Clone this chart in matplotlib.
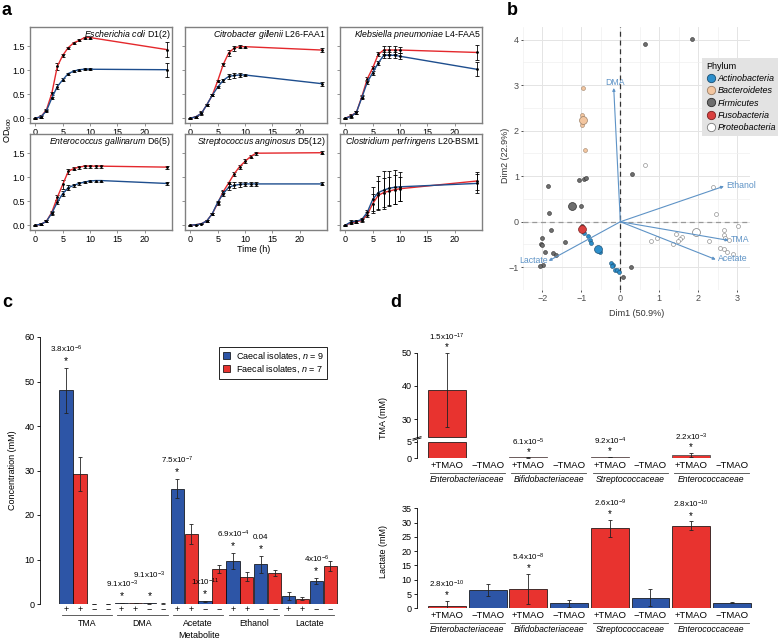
import numpy as np
import matplotlib.pyplot as plt
from matplotlib.lines import Line2D
from matplotlib.patches import Patch

plt.rcParams['font.family'] = ['Liberation Sans', 'DejaVu Sans']
plt.rcParams['mathtext.fontset'] = 'custom'
plt.rcParams['mathtext.rm'] = 'Liberation Sans'
plt.rcParams['mathtext.it'] = 'Liberation Sans:italic'
plt.rcParams['font.size'] = 6

RED = '#e8332f'
BLUE = '#2d55a6'
RED_LINE = '#e4282c'
BLUE_LINE = '#1e4e8e'
ARROW = '#5e93c6'

# ---------------- panel a: growth curves ----------------
a_species = ['Escherichia coli', 'Citrobacter gillenii', 'Klebsiella pneumoniae',
             'Enterococcus gallinarum', 'Streptococcus anginosus', 'Clostridium perfringens']
a_strain = ['D1(2)', 'L26-FAA1', 'L4-FAA5', 'D6(5)', 'D5(12)', 'L20-BSM1']
t_short = [0, 1, 2, 3, 4, 5, 6, 7, 8, 9, 10, 24]
t_long = [0, 1, 2, 3, 4, 5, 6, 7, 8, 9, 10, 11, 12, 24]
a_times = [t_short, t_short, t_short, t_long, t_long, t_short]
a_red = [
    [0.0, 0.03, 0.17, 0.52, 1.08, 1.31, 1.47, 1.57, 1.62, 1.68, 1.68, 1.43],
    [0.0, 0.03, 0.10, 0.28, 0.48, 0.78, 1.12, 1.36, 1.46, 1.49, 1.49, 1.42],
    [0.0, 0.05, 0.12, 0.45, 0.82, 1.05, 1.33, 1.42, 1.42, 1.42, 1.42, 1.37],
    [0.0, 0.02, 0.08, 0.27, 0.58, 0.85, 1.12, 1.18, 1.21, 1.23, 1.23, 1.23, 1.23, 1.21],
    [0.0, 0.01, 0.03, 0.09, 0.24, 0.46, 0.70, 0.88, 1.07, 1.22, 1.33, 1.43, 1.50, 1.51],
    [0.0, 0.05, 0.07, 0.10, 0.22, 0.45, 0.62, 0.68, 0.71, 0.74, 0.76, 0.92],
]
a_red_err = [
    [0.01, 0.02, 0.02, 0.03, 0.07, 0.03, 0.02, 0.02, 0.02, 0.02, 0.02, 0.15],
    [0.01, 0.02, 0.02, 0.02, 0.02, 0.02, 0.03, 0.06, 0.05, 0.03, 0.02, 0.04],
    [0.01, 0.03, 0.03, 0.03, 0.04, 0.03, 0.04, 0.08, 0.08, 0.08, 0.06, 0.15],
    [0.01, 0.02, 0.02, 0.03, 0.05, 0.10, 0.05, 0.03, 0.03, 0.03, 0.03, 0.03, 0.03, 0.03],
    [0.01, 0.01, 0.01, 0.02, 0.02, 0.03, 0.03, 0.03, 0.04, 0.04, 0.04, 0.04, 0.03, 0.03],
    [0.01, 0.02, 0.02, 0.03, 0.05, 0.20, 0.30, 0.30, 0.30, 0.30, 0.25, 0.18],
]
a_blue = [
    [0.0, 0.03, 0.15, 0.42, 0.66, 0.80, 0.93, 0.98, 1.01, 1.02, 1.02, 1.01],
    [0.0, 0.03, 0.10, 0.28, 0.48, 0.65, 0.79, 0.87, 0.89, 0.90, 0.90, 0.72],
    [0.0, 0.04, 0.12, 0.43, 0.75, 0.95, 1.15, 1.31, 1.31, 1.31, 1.29, 1.02],
    [0.0, 0.02, 0.08, 0.25, 0.48, 0.66, 0.78, 0.83, 0.87, 0.90, 0.92, 0.93, 0.93, 0.87],
    [0.0, 0.01, 0.03, 0.09, 0.24, 0.48, 0.66, 0.79, 0.83, 0.85, 0.86, 0.86, 0.86, 0.86],
    [0.0, 0.07, 0.08, 0.12, 0.27, 0.54, 0.68, 0.73, 0.77, 0.79, 0.80, 0.87],
]
a_blue_err = [
    [0.01, 0.03, 0.02, 0.03, 0.05, 0.03, 0.02, 0.02, 0.02, 0.02, 0.02, 0.15],
    [0.01, 0.02, 0.04, 0.02, 0.02, 0.02, 0.03, 0.06, 0.06, 0.05, 0.03, 0.04],
    [0.01, 0.03, 0.03, 0.03, 0.04, 0.04, 0.04, 0.06, 0.06, 0.06, 0.06, 0.15],
    [0.01, 0.02, 0.02, 0.03, 0.04, 0.05, 0.05, 0.03, 0.03, 0.02, 0.02, 0.02, 0.02, 0.03],
    [0.01, 0.01, 0.01, 0.02, 0.02, 0.03, 0.05, 0.06, 0.06, 0.05, 0.05, 0.05, 0.05, 0.03],
    [0.01, 0.03, 0.03, 0.03, 0.05, 0.25, 0.35, 0.40, 0.35, 0.35, 0.30, 0.20],
]

# ---------------- panel b: PCA ----------------
phyla = ['Actinobacteria', 'Bacteroidetes', 'Firmicutes', 'Fusobacteria', 'Proteobacteria']
ph_face = ['#2d8fcb', '#f3c6a0', '#6e6e6e', '#d9403f', 'white']
ph_edge = ['#1b4f73', '#9c7f66', '#2e2e2e', '#7a2020', '#7a7a7a']
actino_x = [-0.95, -0.93, -0.83, -0.79, -0.76, -0.52, -0.23, -0.19, -0.15, -0.09, -0.04, -0.22]
actino_y = [-0.21, -0.24, -0.32, -0.41, -0.46, -0.66, -0.91, -0.96, -1.06, -1.06, -1.11, -0.98]
bact_x = [-0.95, -0.98, -0.99, -0.92]
bact_y = [2.94, 2.35, 2.12, 1.57]
firm_x = [0.63, 1.85, 0.31, -1.06, -0.93, -0.88, -1.86, -1.84, -1.0, -1.78, -2.02, -2.04,
          -2.02, -1.93, -1.73, -1.66, -1.41, -1.99, -2.07, 0.27, 0.07, -0.98, -0.95]
firm_y = [3.91, 4.01, 1.04, 0.91, 0.94, 0.96, 0.78, 0.20, 0.35, -0.19, -0.35, -0.48,
          -0.52, -0.67, -0.69, -0.74, -0.45, -0.94, -0.98, -1.0, -1.21, -0.10, -0.15]
fuso_x = [-0.98]
fuso_y = [-0.12]
proteo_x = [0.63, 2.38, 2.45, 3.03, 2.67, 2.65, 2.68, 2.78, 2.27, 1.43, 1.58, 1.53, 1.49,
            1.35, 0.93, 0.80, 2.56, 2.66, 2.73, 2.89]
proteo_y = [1.24, 0.76, 0.17, -0.10, -0.18, -0.29, -0.36, -0.41, -0.43, -0.27, -0.34, -0.38,
            -0.42, -0.48, -0.35, -0.42, -0.57, -0.59, -0.67, -0.70]
cent_x = [-0.57, -0.97, -1.25, -0.98, 1.95]
cent_y = [-0.59, 2.24, 0.34, -0.15, -0.22]
arrow_names = ['DMA', 'Ethanol', 'TMA', 'Acetate', 'Lactate']
arrow_x = [-0.17, 2.66, 2.78, 2.45, -1.84]
arrow_y = [2.94, 0.78, -0.41, -0.83, -0.86]

# ---------------- panel c: metabolites ----------------
c_groups = ['TMA', 'DMA', 'Acetate', 'Ethanol', 'Lactate']
c_signs = ['+', '+', '\u2212', '\u2212']
c_vals = [[48.0, 29.2, 0.1, 0.1], [0.2, 0.15, 0.12, 0.1], [25.9, 15.7, 0.6, 7.8],
          [9.7, 6.1, 8.9, 7.0], [1.8, 1.2, 5.2, 8.5]]
c_errs = [[5.1, 3.9, 0.0, 0.0], [0.03, 0.02, 0.02, 0.02], [2.1, 2.2, 0.1, 0.9],
          [1.8, 1.0, 1.9, 0.7], [0.8, 0.3, 0.6, 1.1]]
c_ann_group = [0, 1, 1, 2, 2, 3, 3, 4]
c_ann_bar = [0, 0, 2, 0, 2, 0, 2, 2]
c_ann_text = ['3.8x10$^{-6}$', '9.1x10$^{-3}$', '9.1x10$^{-3}$', '7.5x10$^{-7}$',
              '1x10$^{-11}$', '6.9x10$^{-4}$', '0.04', '4x10$^{-6}$']

# ---------------- panel d: families ----------------
d_families = ['Enterobacteriaceae', 'Bifidobacteriaceae', 'Streptococcaceae', 'Enterococcaceae']
d_treat = ['+TMAO', '\u2212TMAO']
d_tma = [38.8, 0.05, 0.25, 0.05, 0.35, 0.05, 1.0, 0.05]
d_tma_err = [11.2, 0, 0.05, 0, 0.05, 0, 0.6, 0]
d_lac = [0.9, 6.3, 6.75, 1.75, 28.0, 3.7, 28.9, 2.0]
d_lac_err = [1.8, 2.05, 5.4, 1.3, 2.9, 2.9, 1.6, 0.15]
d_tma_p = ['1.5x10$^{-17}$', '6.1x10$^{-5}$', '9.2x10$^{-4}$', '2.2x10$^{-3}$']
d_lac_p = ['2.8x10$^{-10}$', '5.4x10$^{-8}$', '2.6x10$^{-9}$', '2.8x10$^{-10}$']
d_tma_ticks = [0, 5, 30, 40, 50]

W, H = 778, 640
fig = plt.figure(figsize=(W / 100, H / 100), dpi=100)


def box(l, t, r, b):
    return fig.add_axes([l / W, 1 - b / H, (r - l) / W, (b - t) / H])


for lab, x, y in [('a', 2, 15), ('b', 507, 15), ('c', 2, 307), ('d', 390, 307)]:
    fig.text(x / W, 1 - y / H, lab, fontsize=13, fontweight='bold', va='baseline')

# ---- a ----
a_left = [30, 185, 340]
a_top = [27, 134]
for k in range(6):
    row, col = divmod(k, 3)
    ax = box(a_left[col], a_top[row], a_left[col] + 142, a_top[row] + 96)
    for vals, errs, colr in ((a_red[k], a_red_err[k], RED_LINE), (a_blue[k], a_blue_err[k], BLUE_LINE)):
        ax.errorbar(a_times[k], vals, yerr=errs, color=colr, lw=1.0, marker='o', ms=1.0,
                    mfc='k', mec='k', ecolor='k', elinewidth=0.6, capsize=1.3, capthick=0.6)
    ax.set_xlim(-1, 25)
    ax.set_ylim(-0.1, 1.9)
    ax.set_xticks([0, 5, 10, 15, 20])
    ax.set_yticks([0, 0.5, 1, 1.5])
    if col == 0:
        ax.set_yticklabels(['0.0', '0.5', '1.0', '1.5'])
    else:
        ax.set_yticklabels([])
    for s in ax.spines.values():
        s.set_color('#808080')
        s.set_linewidth(1.0)
    ax.tick_params(length=2, width=0.6, color='#808080', labelsize=6.5, pad=1.5)
    title = r'$\mathit{' + a_species[k].replace(' ', r'\ ') + '}$ ' + a_strain[k]
    ax.text(0.99, 0.985, title, transform=ax.transAxes, ha='right', va='top', fontsize=6.3)
fig.text(8 / W, 1 - 130 / H, 'OD$_{600}$', rotation=90, ha='center', va='center', fontsize=6.5)
fig.text(254 / W, 1 - 249 / H, 'Time (h)', ha='center', va='center', fontsize=6.5)

# ---- b ----
axb = box(523, 27, 750, 290)
axb.set_xlim(-2.35, 3.33)
axb.set_ylim(-1.38, 4.28)
axb.set_xticks(np.arange(-2, 4))
axb.set_yticks(np.arange(-1, 5))
axb.set_xticks(np.arange(-2.5, 3.5, 1.0), minor=True)
axb.set_yticks(np.arange(-1.5, 4.5, 1.0), minor=True)
axb.grid(True, which='major', color='#e4e4e4', lw=0.7)
axb.grid(True, which='minor', color='#f0f0f0', lw=0.5)
axb.set_axisbelow(True)
axb.tick_params(which='minor', length=0)
axb.tick_params(which='major', length=1.5, width=0.6, color='#333333', labelcolor='#4d4d4d',
                labelsize=6.5, pad=1.5)
for s in axb.spines.values():
    s.set_visible(False)
axb.axvline(0, color='#333333', lw=0.9, ls=(0, (4, 3)))
axb.axhline(0, color='#999999', lw=0.9, ls=(0, (4, 3)))
b_x = [actino_x, bact_x, firm_x, fuso_x, proteo_x]
b_y = [actino_y, bact_y, firm_y, fuso_y, proteo_y]
for i in range(len(phyla)):
    axb.scatter(b_x[i], b_y[i], s=8, c=ph_face[i], edgecolors=ph_edge[i], linewidths=0.4, zorder=3)
    axb.scatter(cent_x[i], cent_y[i], s=32, c=ph_face[i], edgecolors=ph_edge[i], linewidths=0.5, zorder=4)
for name, x, y in zip(arrow_names, arrow_x, arrow_y):
    axb.annotate('', xy=(x, y), xytext=(0, 0),
                 arrowprops=dict(arrowstyle='-|>', color=ARROW, lw=0.8, mutation_scale=4,
                                 shrinkA=0, shrinkB=0), zorder=5)
    if name == 'DMA':
        axb.text(x + 0.03, y + 0.12, name, color=ARROW, fontsize=6.3, ha='center', va='center')
    elif name == 'Lactate':
        axb.text(x - 0.02, y, name, color=ARROW, fontsize=6.3, ha='right', va='center')
    else:
        axb.text(x + 0.05, y + 0.02, name, color=ARROW, fontsize=6.3, ha='left', va='center')
fig.text(637 / W, 1 - 313 / H, 'Dim1 (50.9%)', ha='center', va='center', fontsize=6.5, color='#333333')
fig.text(505 / W, 1 - 155 / H, 'Dim2 (22.9%)', ha='center', va='center', rotation=90,
         fontsize=6.5, color='#333333')
handles = [Line2D([], [], ls='', marker='o', ms=6, mfc=ph_face[i], mec=ph_edge[i], mew=0.6)
           for i in range(len(phyla))]
leg = axb.legend(handles, phyla, title='Phylum', loc='upper left',
                 bbox_to_anchor=(697 / W, 1 - 53 / H), bbox_transform=fig.transFigure,
                 prop={'style': 'italic', 'size': 6.5}, title_fontproperties={'size': 6.5},
                 frameon=True, facecolor='#e3e3e3', edgecolor='none', fancybox=False,
                 handletextpad=0.3, labelspacing=0.35, borderpad=0.5, handlelength=1.0,
                 alignment='left', framealpha=1)

# ---- c ----
axc = box(40, 337, 340, 604)
cx = np.arange(len(c_groups) * 4)
cv = np.array(c_vals).ravel()
ce = np.array(c_errs).ravel()
ccol = [BLUE if j % 2 == 0 else RED for j in cx]
axc.bar(cx, cv, width=0.95, color=ccol, edgecolor='k', lw=0.5)
axc.errorbar(cx, cv, yerr=ce, fmt='none', ecolor='#222222', elinewidth=0.6, capsize=1.3, capthick=0.6)
axc.set_xlim(-1.87, 19.7)
axc.set_ylim(0, 60)
axc.set_yticks(np.arange(0, 61, 10))
axc.set_xticks(cx, c_signs * len(c_groups))
axc.tick_params(axis='x', length=0, pad=0.5, labelsize=6.5)
axc.tick_params(axis='y', length=2.5, width=0.6, labelsize=6.5, pad=1.5)
for s in ['top', 'right', 'bottom']:
    axc.spines[s].set_visible(False)
axc.spines['left'].set_linewidth(0.6)
ctr = axc.get_xaxis_transform()
for g, name in enumerate(c_groups):
    axc.plot([g * 4 - 0.3, g * 4 + 3.3], [-11 / 267, -11 / 267], color='#444444', lw=0.6,
             transform=ctr, clip_on=False)
    axc.text(g * 4 + 1.5, -19.5 / 267, name, transform=ctr, ha='center', va='center', fontsize=6.3)
for g, j, txt in zip(c_ann_group, c_ann_bar, c_ann_text):
    x = g * 4 + j
    top = c_vals[g][j] + c_errs[g][j]
    extra = 6.5 if (g == 1 and j == 2) else 0
    axc.annotate('*', xy=(x, top), xytext=(0, 5), textcoords='offset points',
                 ha='center', va='center', fontsize=7.5)
    axc.annotate(txt, xy=(x, top), xytext=(0, 13.5 + extra), textcoords='offset points',
                 ha='center', va='center', fontsize=5.8)
fig.text(199 / W, 1 - 635 / H, 'Metabolite', ha='center', va='center', fontsize=6.5)
fig.text(13 / W, 1 - 470 / H, 'Concentration (mM)', ha='center', va='center', rotation=90, fontsize=6.5)
axc.legend([Patch(facecolor=BLUE, edgecolor='k', lw=0.5), Patch(facecolor=RED, edgecolor='k', lw=0.5)],
           ['Caecal isolates, $n$ = 9', 'Faecal isolates, $n$ = 7'], loc='upper right',
           bbox_to_anchor=(332 / W, 1 - 342 / H), bbox_transform=fig.transFigure,
           fontsize=6.5, frameon=True, fancybox=False, edgecolor='k', framealpha=1,
           handlelength=0.8, handleheight=0.8, handletextpad=0.6, labelspacing=0.2, borderpad=0.45)
axc.get_legend().get_frame().set_linewidth(0.6)

# ---- d ----
LO, HI, SHIFT = 5.0, 24.6, 18.3


def fwd(v):
    v = np.asarray(v, dtype=float)
    return np.where(v <= LO, v, np.where(v >= HI, v - SHIFT, LO))


dx = np.arange(len(d_tma))
dcol = [RED if i % 2 == 0 else BLUE for i in dx]


def d_axis_labels(ax, h_px):
    ax.set_xlim(-0.737, 7.57)
    ax.set_xticks(dx, d_treat * len(d_families))
    ax.tick_params(axis='x', length=0, pad=2.2, labelsize=6.8)
    ax.tick_params(axis='y', length=2.5, width=0.6, labelsize=6.5, pad=1.5)
    for s in ['top', 'right', 'bottom']:
        ax.spines[s].set_visible(False)
    tr = ax.get_xaxis_transform()
    for f, name in enumerate(d_families):
        ax.plot([2 * f - 0.42, 2 * f + 1.42], [-14.4 / h_px] * 2, color='#444444', lw=0.6,
                transform=tr, clip_on=False)
        ax.text(2 * f + 0.5, -21.5 / h_px, name, transform=tr, ha='center', va='center',
                fontsize=6.2, style='italic')


# top (TMA) with broken axis
axd1 = box(417, 335, 755, 458.3)
axd1.set_ylim(0, 37.0)
for i in dx:
    v = d_tma[i]
    if v > LO:
        axd1.bar(i, LO, width=0.93, color=dcol[i], edgecolor='k', lw=0.5)
        axd1.bar(i, fwd(v) - (HI - SHIFT), bottom=HI - SHIFT, width=0.93, color=dcol[i],
                 edgecolor='k', lw=0.5)
    else:
        axd1.bar(i, v, width=0.93, color=dcol[i], edgecolor='#555555', lw=0.6)
    e = d_tma_err[i]
    if e > 0:
        yc = fwd(v)
        axd1.errorbar(i, yc, yerr=[[yc - fwd(v - e)], [fwd(v + e) - yc]], fmt='none',
                      ecolor='#222222', elinewidth=0.6, capsize=1.3, capthick=0.6)
axd1.set_yticks(fwd(d_tma_ticks), [str(t) for t in d_tma_ticks])
axd1.spines['left'].set_visible(False)
ytr = axd1.get_yaxis_transform()
axd1.plot([0, 0], [0, LO + 0.5], color='k', lw=0.6, transform=ytr, clip_on=False)
axd1.plot([0, 0], [HI - SHIFT - 0.3, float(fwd(50))], color='k', lw=0.6, transform=ytr, clip_on=False)
axd1.plot([-0.012, 0.012], [LO + 0.4, LO + 1.1], color='k', lw=0.6, transform=ytr, clip_on=False)
axd1.plot([-0.012, 0.012], [LO + 0.8, LO + 1.5], color='k', lw=0.6, transform=ytr, clip_on=False)
d_axis_labels(axd1, 123.3)
for f, txt in enumerate(d_tma_p):
    i = 2 * f
    top = float(fwd(d_tma[i] + d_tma_err[i]))
    axd1.annotate('*', xy=(i, top), xytext=(0, 4), textcoords='offset points',
                  ha='center', va='center', fontsize=7)
    axd1.annotate(txt, xy=(i, top), xytext=(0, 11), textcoords='offset points',
                  ha='center', va='center', fontsize=5.8)
fig.text(383 / W, 1 - 418 / H, 'TMA (mM)', ha='center', va='center', rotation=90, fontsize=6.5)

# bottom (lactate)
axd2 = box(417, 499.7, 755, 608.3)
axd2.set_ylim(0, 38)
axd2.bar(dx, d_lac, width=0.93, color=dcol, edgecolor='k', lw=0.5)
axd2.errorbar(dx, d_lac, yerr=d_lac_err, fmt='none', ecolor='#222222', elinewidth=0.6,
              capsize=1.3, capthick=0.6)
axd2.set_yticks(np.arange(0, 36, 5))
axd2.spines['left'].set_bounds(0, 35)
axd2.spines['left'].set_linewidth(0.6)
d_axis_labels(axd2, 108.6)
for f, txt in enumerate(d_lac_p):
    i = 2 * f
    top = d_lac[i] + d_lac_err[i]
    axd2.annotate('*', xy=(i, top), xytext=(0, 4), textcoords='offset points',
                  ha='center', va='center', fontsize=7)
    axd2.annotate(txt, xy=(i, top), xytext=(0, 12), textcoords='offset points',
                  ha='center', va='center', fontsize=5.8)
fig.text(383 / W, 1 - 552 / H, 'Lactate (mM)', ha='center', va='center', rotation=90, fontsize=6.5)

fig.savefig('out.png', dpi=100)
